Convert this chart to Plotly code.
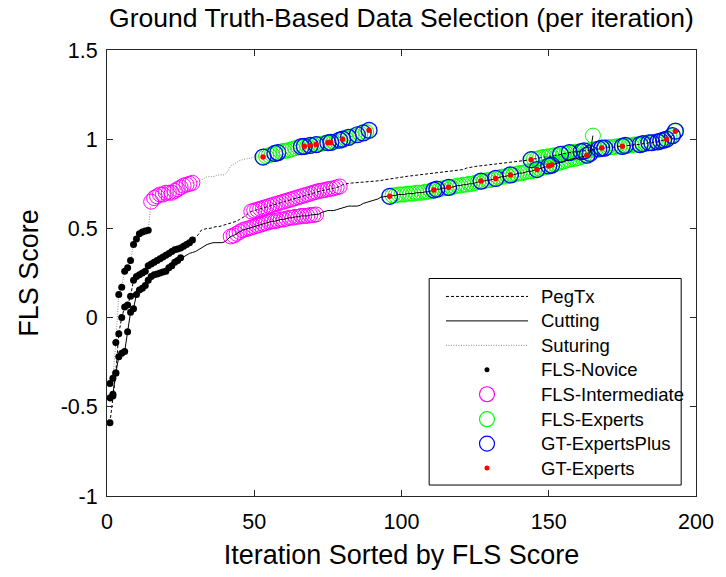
import plotly.graph_objects as go

# ---------------- data ----------------
# PegTx (dashed)
peg_novice = [-0.59, -0.44, -0.31, -0.09, 0.0, 0.06, 0.07, 0.12, 0.21, 0.23, 0.24, 0.25, 0.26, 0.29,
              0.30, 0.31, 0.32, 0.33, 0.34, 0.35, 0.36, 0.37, 0.38, 0.385, 0.39, 0.40, 0.41, 0.42, 0.435]
peg_gap1 = [0.45, 0.465, 0.49, 0.495, 0.50, 0.50, 0.505, 0.51, 0.51, 0.515, 0.52, 0.525, 0.53, 0.535,
            0.54, 0.55, 0.56, 0.57, 0.585]
peg_inter = [0.595, 0.60, 0.605, 0.61, 0.615, 0.62, 0.625, 0.63, 0.635, 0.64, 0.645, 0.65, 0.655, 0.66,
             0.665, 0.67, 0.675, 0.68, 0.685, 0.69, 0.695, 0.70, 0.705, 0.71, 0.712, 0.715, 0.72, 0.722,
             0.725, 0.73, 0.735]
peg_gap2 = [0.745, 0.75, 0.752, 0.754, 0.755, 0.756, 0.757, 0.758, 0.759, 0.76, 0.761, 0.762, 0.765,
            0.768, 0.772, 0.775, 0.778, 0.78, 0.782, 0.785, 0.787, 0.79, 0.792, 0.794, 0.796, 0.798,
            0.80, 0.802, 0.804, 0.806, 0.808, 0.81, 0.812, 0.814, 0.815, 0.817, 0.819, 0.82, 0.822,
            0.824, 0.826, 0.83, 0.838, 0.842, 0.845, 0.847, 0.849, 0.851, 0.853, 0.855, 0.856, 0.857,
            0.858, 0.86, 0.862, 0.864, 0.866, 0.868, 0.87, 0.872, 0.874, 0.876, 0.878, 0.88]
peg_expert = [0.885, 0.89, 0.89, 0.895, 0.90, 0.90, 0.905, 0.905, 0.91, 0.91, 0.915, 0.92, 0.92, 0.925,
              0.925, 0.93, 0.93, 0.93, 0.935, 0.935, 0.94, 0.94, 0.945, 0.945, 0.95, 0.95, 0.955, 0.955,
              0.955, 0.96, 0.96, 0.96, 0.965, 0.965, 0.965, 0.97, 0.97, 0.97, 0.975, 0.975, 0.98, 0.98,
              0.985, 0.985, 0.99, 0.995, 1.0, 1.01, 1.02, 1.045]
peg_gt_plus = [144, 154, 157, 161, 162, 167, 168, 169, 175, 176, 181, 182, 184, 185, 187, 188, 189, 190, 192, 193]
peg_gt_exp = [144, 168, 175, 190, 193]

# Cutting (solid)
cut_novice = [-0.45, -0.43, -0.31, -0.22, -0.20, -0.19, -0.08, 0.03, 0.05, 0.13, 0.155, 0.165, 0.18,
              0.21, 0.23, 0.24, 0.245, 0.25, 0.255, 0.26, 0.28, 0.29, 0.31, 0.32, 0.335]
cut_gap1 = [0.34, 0.35, 0.36, 0.365, 0.37, 0.38, 0.39, 0.40, 0.41, 0.415, 0.42, 0.42, 0.42, 0.42, 0.425, 0.44]
cut_inter = [0.455, 0.46, 0.47, 0.48, 0.49, 0.495, 0.50, 0.505, 0.51, 0.515, 0.52, 0.525, 0.53, 0.535,
             0.54, 0.54, 0.545, 0.55, 0.55, 0.555, 0.56, 0.56, 0.565, 0.565, 0.57, 0.57, 0.57, 0.575,
             0.575, 0.578]
cut_gap2 = [0.58, 0.59, 0.595, 0.60, 0.60, 0.60, 0.605, 0.61, 0.615, 0.62, 0.625, 0.625, 0.625, 0.625,
            0.63, 0.64, 0.645, 0.65, 0.655, 0.66, 0.665, 0.675, 0.678, 0.68]
cut_expert = [0.68, 0.685, 0.685, 0.69, 0.69, 0.69, 0.695, 0.695, 0.695, 0.70, 0.70, 0.70, 0.705, 0.705,
              0.71, 0.715, 0.72, 0.72, 0.725, 0.725, 0.73, 0.73, 0.735, 0.74, 0.74, 0.745, 0.745, 0.75,
              0.75, 0.755, 0.76, 0.765, 0.765, 0.77, 0.77, 0.775, 0.78, 0.785, 0.79, 0.79, 0.795, 0.80,
              0.80, 0.805, 0.81, 0.81, 0.815, 0.82, 0.82, 0.825, 0.83, 0.835, 0.84, 0.845, 0.85, 0.855,
              0.86, 0.865, 0.87, 0.875, 0.88, 0.885, 0.89, 0.89, 0.895, 0.90, 0.905, 0.91, 0.92, 1.02]
cut_gt_plus = [96, 111, 112, 116, 127, 132, 137, 146, 150, 151, 163, 164]
cut_gt_exp = [96, 111, 116, 127, 132, 137, 146, 150, 151, 163]

# Suturing (dotted)
sut_novice = [-0.37, -0.34, -0.14, 0.13, 0.17, 0.26, 0.28, 0.32, 0.41, 0.44, 0.47, 0.48, 0.485, 0.49]
sut_inter = [0.65, 0.67, 0.68, 0.69, 0.69, 0.70, 0.70, 0.70, 0.71, 0.72, 0.73, 0.74, 0.745, 0.75, 0.755]
sut_gap = [0.76, 0.765, 0.77, 0.78, 0.79, 0.79, 0.79, 0.795, 0.80, 0.80, 0.80, 0.82, 0.85, 0.86, 0.87,
           0.88, 0.885, 0.89, 0.89, 0.895, 0.90, 0.90, 0.90]
sut_expert = [0.90, 0.905, 0.91, 0.915, 0.92, 0.925, 0.93, 0.935, 0.935, 0.94, 0.945, 0.95, 0.955, 0.958,
              0.96, 0.962, 0.965, 0.968, 0.97, 0.972, 0.975, 0.978, 0.98, 0.982, 0.985, 0.99, 0.995,
              1.0, 1.005, 1.01, 1.015, 1.02, 1.025, 1.03, 1.035, 1.04, 1.05]
sut_gt_plus = [53, 57, 58, 66, 67, 69, 71, 75, 76, 79, 80, 82, 85, 87, 89]
sut_gt_exp = [53, 67, 69, 71, 75, 76, 80, 89]

x_ticks = [0, 50, 100, 150, 200]
y_ticks = [-1, -0.5, 0, 0.5, 1, 1.5]
y_tick_text = ["-1", "-0.5", "0", "0.5", "1", "1.5"]

# ---------------- build ----------------
def build(segments):
    ys, kinds = [], []
    for kind, vals in segments:
        ys.extend(vals)
        kinds.extend([kind] * len(vals))
    xs = list(range(1, len(ys) + 1))
    return xs, ys, kinds

tasks = {
    "PegTx": (build([("n", peg_novice), ("g", peg_gap1), ("i", peg_inter), ("g", peg_gap2), ("e", peg_expert)]),
              peg_gt_plus, peg_gt_exp, dict(color="black", width=1, dash="3px,2px")),
    "Cutting": (build([("n", cut_novice), ("g", cut_gap1), ("i", cut_inter), ("g", cut_gap2), ("e", cut_expert)]),
                cut_gt_plus, cut_gt_exp, dict(color="black", width=1, dash="solid")),
    "Suturing": (build([("n", sut_novice), ("i", sut_inter), ("g", sut_gap), ("e", sut_expert)]),
                 sut_gt_plus, sut_gt_exp, dict(color="#8a8a8a", width=1, dash="1px,1.5px")),
}

fig = go.Figure()

def sel(xs, ys, kinds, k):
    px = [x for x, kk in zip(xs, kinds) if kk == k]
    py = [y for y, kk in zip(ys, kinds) if kk == k]
    return px, py

ring_i = dict(symbol="circle-open", size=15, color="#ff00ff", line=dict(width=1, color="#ff00ff"))
ring_e = dict(symbol="circle-open", size=15, color="#00ff00", line=dict(width=1, color="#00ff00"))
ring_b = dict(symbol="circle-open", size=16, color="#0000ff", line=dict(width=1.2, color="#0000ff"))
dot_k = dict(symbol="circle", size=7, color="black")
dot_r = dict(symbol="circle", size=5.5, color="#ff0000")

for name, ((xs, ys, kinds), gp, ge, ln) in tasks.items():
    px, py = sel(xs, ys, kinds, "i")
    fig.add_trace(go.Scatter(x=px, y=py, mode="markers", marker=ring_i, showlegend=False))
for name, ((xs, ys, kinds), gp, ge, ln) in tasks.items():
    px, py = sel(xs, ys, kinds, "e")
    fig.add_trace(go.Scatter(x=px, y=py, mode="markers", marker=ring_e, showlegend=False))
for name, ((xs, ys, kinds), gp, ge, ln) in tasks.items():
    fig.add_trace(go.Scatter(x=gp, y=[ys[i - 1] for i in gp], mode="markers", marker=ring_b, showlegend=False))
for name, ((xs, ys, kinds), gp, ge, ln) in tasks.items():
    fig.add_trace(go.Scatter(x=xs, y=ys, mode="lines", line=ln, showlegend=False))
for name, ((xs, ys, kinds), gp, ge, ln) in tasks.items():
    px, py = sel(xs, ys, kinds, "n")
    fig.add_trace(go.Scatter(x=px, y=py, mode="markers", marker=dot_k, showlegend=False))
for name, ((xs, ys, kinds), gp, ge, ln) in tasks.items():
    fig.add_trace(go.Scatter(x=ge, y=[ys[i - 1] for i in ge], mode="markers", marker=dot_r, showlegend=False))

# ---------------- manual MATLAB-style legend ----------------
legend_labels = ["PegTx", "Cutting", "Suturing", "FLS-Novice", "FLS-Intermediate",
                 "FLS-Experts", "GT-ExpertsPlus", "GT-Experts"]
L, R, T, B = 107, 703, 50, 497  # plot area in px
W, H = R - L, B - T
def px2x(p): return (p - L) / W
def py2y(p): return (B - p) / H

FONT = "Liberation Sans, Arial, Helvetica, sans-serif"
shapes = []
shapes.append(dict(type="rect", xref="paper", yref="paper", layer="above",
                   x0=px2x(433), x1=px2x(688), y0=py2y(486), y1=py2y(279),
                   fillcolor="white", line=dict(color="black", width=1)))
rows = [297, 321.5, 346, 370.5, 395, 420, 444.5, 469]
line_styles = [dict(color="black", width=1, dash="3px,2px"),
               dict(color="black", width=1, dash="solid"),
               dict(color="#8a8a8a", width=1, dash="1px,1.5px")]
for i in range(3):
    shapes.append(dict(type="line", xref="paper", yref="paper", layer="above",
                       x0=px2x(450), x1=px2x(533), y0=py2y(rows[i]), y1=py2y(rows[i]), line=line_styles[i]))
marker_specs = [("black", "black", 2.5), (None, "#ff00ff", 7.5), (None, "#00ff00", 7.5),
                (None, "#0000ff", 7.5), ("#ff0000", "#ff0000", 2.5)]
for j, (fill, col, r) in enumerate(marker_specs):
    yy = py2y(rows[3 + j])
    shapes.append(dict(type="circle", xref="paper", yref="paper", layer="above",
                       xsizemode="pixel", ysizemode="pixel", xanchor=px2x(491.5), yanchor=yy,
                       x0=-r, x1=r, y0=-r, y1=r,
                       fillcolor=fill if fill else "rgba(0,0,0,0)",
                       line=dict(color=col, width=1.2 if fill is None else 0)))
annotations = []
for i, lab in enumerate(legend_labels):
    annotations.append(dict(text=lab, xref="paper", yref="paper", x=px2x(544), y=py2y(rows[i]),
                            xanchor="left", yanchor="middle", showarrow=False,
                            font=dict(size=18.5, color="black", family=FONT)))

axis_common = dict(showgrid=False, zeroline=False, showline=True, linecolor="#262626", linewidth=1,
                   mirror="ticks", ticks="inside", ticklen=6, tickcolor="#262626", tickwidth=1,
                   tickfont=dict(size=21.5, color="black", family=FONT))

fig.update_layout(
    width=726, height=577,
    margin=dict(l=L, r=726 - R, t=T, b=577 - B),
    paper_bgcolor="white", plot_bgcolor="white",
    font=dict(family=FONT, color="black"),
    title=dict(text="Ground Truth-Based Data Selection (per iteration)", x=0.5, xref="paper",
               y=1 - 18 / 577, yanchor="middle", font=dict(size=26.5, color="black", family=FONT)),
    xaxis=dict(range=[0, 200], tickvals=x_ticks, ticktext=[str(v) for v in x_ticks],
               ticklabelstandoff=6,
               title=dict(text="Iteration Sorted by FLS Score", font=dict(size=27, family=FONT), standoff=12),
               **axis_common),
    yaxis=dict(range=[-1, 1.5], tickvals=y_ticks, ticktext=y_tick_text,
               ticklabelstandoff=4,
               title=dict(text="FLS Score", font=dict(size=27, family=FONT), standoff=14),
               **axis_common),
    shapes=shapes, annotations=annotations, showlegend=False,
)

fig.write_html("out.html")
